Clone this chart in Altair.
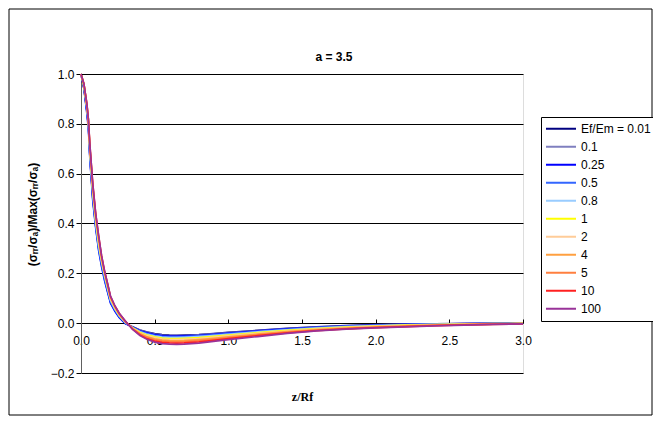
import altair as alt
import pandas as pd

x_vals = [0, 0.02, 0.04, 0.05, 0.06, 0.08, 0.10, 0.12, 0.14, 0.16, 0.18, 0.20, 0.23, 0.26, 0.30,
          0.35, 0.40, 0.45, 0.50, 0.55, 0.60, 0.65, 0.70, 0.80, 0.90, 1.00, 1.20, 1.40, 1.60, 1.80,
          2.00, 2.20, 2.40, 2.60, 2.80, 3.00]

series_names = ["0.01", "0.1", "0.25", "0.5", "0.8", "1", "2", "4", "5", "10", "100"]
series_colors = ["#000080", "#7f7fbf", "#0000ff", "#3366ff", "#99ccff", "#ffff00",
                 "#ffcc99", "#ffa040", "#ff7f3f", "#ff2020", "#993399"]

chart_title = ["a = 3.5"]

s_001 = [1.00, .94, .85, .79, .67, .50, .39, .30, .235, .18, .13, .085, .05, .024, -.001,
         -.014, -.027, -.036, -.042, -.046, -.048, -.049, -.048, -.046, -.042, -.037, -.029, -.021, -.015, -.010,
         -.006, -.004, -.003, -.002, -.001, .000]
s_01 = [1.00, .95, .86, .80, .68, .51, .40, .31, .24, .185, .135, .09, .053, .026, .000,
        -.015, -.028, -.037, -.044, -.048, -.050, -.050, -.050, -.047, -.043, -.038, -.030, -.022, -.016, -.011,
        -.007, -.005, -.003, -.002, -.001, .000]
s_025 = [1.00, .94, .84, .78, .66, .49, .38, .29, .225, .17, .125, .08, .048, .022, -.002,
         -.016, -.030, -.039, -.046, -.050, -.052, -.052, -.051, -.049, -.045, -.040, -.031, -.023, -.017, -.012,
         -.008, -.005, -.004, -.002, -.001, .000]
s_05 = [1.00, .95, .85, .79, .67, .50, .385, .295, .23, .175, .13, .085, .052, .025, .001,
        -.017, -.032, -.042, -.049, -.053, -.055, -.055, -.054, -.051, -.047, -.042, -.033, -.025, -.018, -.013,
        -.009, -.006, -.004, -.003, -.002, -.001]
s_08 = [1.00, .95, .86, .80, .68, .52, .40, .31, .245, .19, .14, .092, .056, .029, .003,
        -.018, -.034, -.045, -.052, -.056, -.058, -.058, -.057, -.054, -.050, -.045, -.035, -.027, -.020, -.014,
        -.010, -.007, -.005, -.003, -.002, -.001]
s_1 = [1.00, .95, .87, .81, .70, .53, .41, .32, .25, .195, .145, .097, .06, .032, .005,
       -.019, -.036, -.048, -.055, -.060, -.062, -.062, -.061, -.058, -.053, -.048, -.038, -.029, -.022, -.016,
       -.012, -.008, -.006, -.004, -.002, -.001]
s_2 = [1.00, .96, .87, .81, .70, .54, .42, .33, .255, .20, .15, .10, .063, .034, .006,
       -.020, -.039, -.051, -.059, -.064, -.066, -.066, -.065, -.062, -.057, -.051, -.041, -.032, -.024, -.018,
       -.013, -.010, -.007, -.005, -.003, -.002]
s_4 = [1.00, .96, .87, .82, .71, .55, .43, .34, .26, .205, .155, .104, .066, .036, .007,
       -.021, -.041, -.055, -.063, -.068, -.070, -.071, -.070, -.066, -.061, -.055, -.044, -.034, -.026, -.020,
       -.015, -.011, -.008, -.006, -.004, -.002]
s_5 = [1.00, .96, .88, .82, .71, .55, .43, .34, .265, .205, .155, .105, .067, .037, .008,
       -.022, -.044, -.058, -.067, -.072, -.074, -.075, -.074, -.070, -.065, -.059, -.047, -.037, -.028, -.022,
       -.017, -.013, -.009, -.006, -.004, -.002]
s_10 = [1.00, .96, .88, .82, .72, .56, .44, .35, .27, .21, .16, .108, .069, .039, .009,
        -.024, -.047, -.063, -.072, -.077, -.079, -.080, -.079, -.075, -.069, -.062, -.050, -.039, -.030, -.023,
        -.018, -.014, -.010, -.007, -.005, -.003]
s_100 = [1.00, .96, .88, .82, .72, .56, .44, .35, .27, .21, .16, .11, .07, .04, .01,
         -.025, -.050, -.066, -.076, -.082, -.084, -.085, -.084, -.080, -.073, -.066, -.054, -.041, -.031, -.024,
         -.019, -.015, -.011, -.008, -.005, -.003]

all_series = [s_001, s_01, s_025, s_05, s_08, s_1, s_2, s_4, s_5, s_10, s_100]

y_ticks = [-0.2, 0.0, 0.2, 0.4, 0.6, 0.8, 1.0]
x_ticks = [0.0, 0.5, 1.0, 1.5, 2.0, 2.5, 3.0]

rows = []
for i, (name, ys) in enumerate(zip(series_names, all_series)):
    for xv, yv in zip(x_vals, ys):
        rows.append({"z": xv, "v": yv, "s": name, "order": i})
df = pd.DataFrame(rows)

FONT = "Liberation Sans"

lines = alt.Chart(df).mark_line(strokeWidth=1.6).encode(
    x=alt.X("z:Q",
            scale=alt.Scale(domain=[0, 3], nice=False),
            axis=alt.Axis(values=x_ticks, format=".1f", grid=False, domain=False,
                          offset=-54, tickSize=4, tickColor="#000000", labelFlush=False,
                          labelPadding=12, labelFontSize=12, labelColor="#000000",
                          labelFont=FONT,
                          title="z/Rf", titleFont="Liberation Serif", titleFontSize=12,
                          titleFontWeight="bold", titleY=72, titleColor="#000000")),
    y=alt.Y("v:Q",
            scale=alt.Scale(domain=[-0.2, 1.0], nice=False, zero=False),
            axis=alt.Axis(values=y_ticks, format=".1f", grid=True, gridColor="#000000",
                          gridWidth=1, domainColor="#606060", tickColor="#000000", tickSize=5,
                          labelFontSize=12, labelColor="#000000", labelFont=FONT,
                          title="(σᵣᵣ/σₐ)/Max(σᵣᵣ/σₐ)", titleFont=FONT, titleFontSize=12,
                          titleFontWeight="bold", titleX=-42, titleY=140, titleColor="#000000")),
    color=alt.Color("s:N",
                    scale=alt.Scale(domain=series_names, range=series_colors),
                    sort=series_names,
                    legend=alt.Legend(title=None, orient="none", legendX=460, legendY=43,
                                      symbolType="stroke", symbolStrokeWidth=2, symbolSize=900,
                                      clipHeight=15.7, rowPadding=2, padding=4,
                                      strokeColor="#000000", fillColor="#ffffff",
                                      labelFont=FONT, labelFontSize=12, labelColor="#000000",
                                      labelOffset=4,
                                      labelExpr="datum.label == '0.01' ? 'Ef/Em = 0.01' : datum.label")),
    order=alt.Order("order:Q"),
    detail="s:N",
)

frame = alt.Chart(pd.DataFrame({"a": [0]})).mark_rect(
    filled=False, stroke="#000000", strokeWidth=1
).encode(x=alt.value(-72), x2=alt.value(571), y=alt.value(-65), y2=alt.value(341))

title_text = alt.Chart(pd.DataFrame({"t": chart_title})).mark_text(
    font=FONT, fontSize=12, fontWeight="bold", color="#000000", align="center", baseline="middle"
).encode(text="t:N", x=alt.value(253), y=alt.value(-17))

chart = alt.layer(frame, lines, title_text).properties(
    width=442, height=299,
    autosize=alt.AutoSizeParams(type="none"),
    padding={"left": 73, "top": 66, "right": 130, "bottom": 44},
).configure_view(stroke="#808080", strokeWidth=1).configure(background="#ffffff")

chart.save("out.html", embed_options={"renderer": "svg", "actions": False})
